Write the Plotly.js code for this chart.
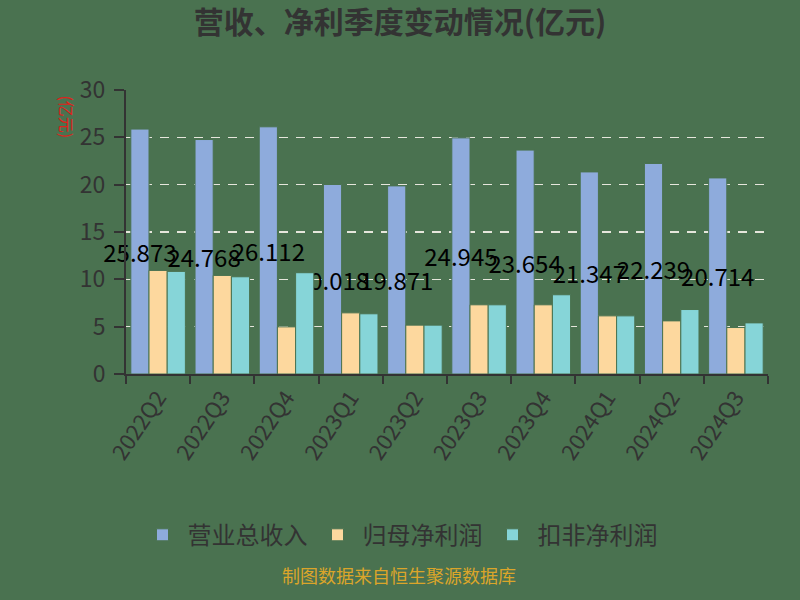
<!DOCTYPE html>
<html>
<head>
<meta charset="utf-8">
<script src="https://cdn.plot.ly/plotly-3.0.1.min.js"></script>
<style>
  html, body { margin: 0; padding: 0; background: #4a7250; }
  #plotDiv { width: 800px; height: 600px; }
</style>
</head>
<body>
<div id="plotDiv"></div>
<script>
let quarters = ['2022Q2', '2022Q3', '2022Q4', '2023Q1', '2023Q2', '2023Q3', '2023Q4', '2024Q1', '2024Q2', '2024Q3'];
let revenue = [25.873, 24.768, 26.112, 20.018, 19.871, 24.945, 23.654, 21.347, 22.239, 20.714];
let netProfit = [10.94, 10.41, 4.98, 6.46, 5.16, 7.31, 7.31, 6.14, 5.61, 4.91];
let deductedProfit = [10.84, 10.27, 10.70, 6.36, 5.16, 7.31, 8.37, 6.14, 6.81, 5.40];
let yTicks = [0, 5, 10, 15, 20, 25, 30];

let bg = '#4a7250';
let font = 'Noto Sans CJK SC, Noto Sans, sans-serif';

let revenueBar = {
  x: quarters,
  y: revenue,
  name: '营业总收入',
  type: 'bar',
  marker: { color: '#8eabdc', line: { color: bg, width: 1 } },
  text: revenue.map((v) => v.toFixed(3)),
  textposition: 'inside',
  insidetextanchor: 'middle',
  constraintext: 'none',
  textangle: 0,
  textfont: { color: '#000', size: 24, family: font },
  cliponaxis: false,
  hoverinfo: 'none',
};

let profitBar = {
  x: quarters,
  y: netProfit,
  name: '归母净利润',
  type: 'bar',
  marker: { color: '#fdd89e', line: { color: bg, width: 1 } },
  hoverinfo: 'none',
};

let deductedBar = {
  x: quarters,
  y: deductedProfit,
  name: '扣非净利润',
  type: 'bar',
  marker: { color: '#86d5d8', line: { color: bg, width: 1 } },
  hoverinfo: 'none',
};

let layout = {
  width: 800,
  height: 600,
  paper_bgcolor: bg,
  plot_bgcolor: bg,
  font: { family: font, color: '#333' },
  title: {
    text: '<b>营收、净利季度变动情况(亿元)</b>',
    x: 0.5,
    xanchor: 'center',
    y: 0.962,
    yanchor: 'middle',
    font: { size: 30, color: '#333', family: font },
  },
  margin: { l: 126, r: 32, t: 90, b: 226 },
  barmode: 'group',
  bargap: 0.15,
  bargroupgap: 0,
  xaxis: {
    type: 'category',
    tickangle: -56,
    tickfont: { size: 22, color: '#333' },
    showline: true,
    linecolor: '#333',
    linewidth: 2,
    ticks: 'outside',
    tickson: 'boundaries',
    ticklen: 8,
    tickcolor: '#333',
    tickwidth: 2,
    showgrid: false,
  },
  yaxis: {
    range: [0, 30],
    tickvals: yTicks,
    tickfont: { size: 23, color: '#333' },
    showline: true,
    linecolor: '#333',
    linewidth: 2,
    ticks: 'outside',
    ticklen: 10,
    tickcolor: '#333',
    tickwidth: 2,
    ticklabelstandoff: 4,
    showgrid: true,
    gridcolor: '#e6e6dc',
    gridwidth: 1.5,
    griddash: '9px,8px',
    zeroline: false,
  },
  showlegend: true,
  legend: {
    orientation: 'h',
    xref: 'container',
    yref: 'container',
    x: 0.5,
    xanchor: 'center',
    y: 0.108,
    yanchor: 'middle',
    font: { size: 24, color: '#333', family: font },
    bgcolor: 'rgba(0,0,0,0)',
    itemwidth: 40,
  },
  annotations: [
    {
      text: '(亿元)',
      xref: 'paper',
      yref: 'paper',
      x: -0.114,
      y: 0.987,
      textangle: 90,
      showarrow: false,
      font: { size: 16, color: '#e0201a', family: font },
    },
    {
      text: '制图数据来自恒生聚源数据库',
      xref: 'paper',
      yref: 'paper',
      x: 0.425,
      y: -0.76,
      showarrow: false,
      font: { size: 18, color: '#dba52a', family: font },
    },
  ],
};

Plotly.newPlot('plotDiv', [revenueBar, profitBar, deductedBar], layout, { displayModeBar: false, staticPlot: true });
</script>
</body>
</html>
